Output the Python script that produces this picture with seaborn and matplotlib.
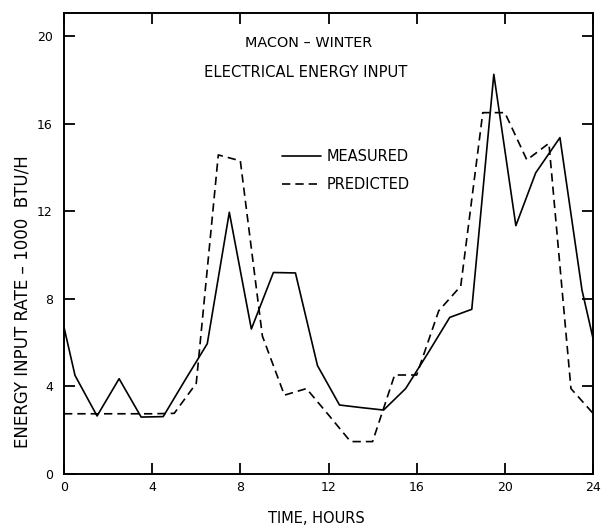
import numpy as np
import pandas as pd
import seaborn as sns
import matplotlib
matplotlib.use("Agg")
import matplotlib.pyplot as plt

# ---- data ----
measured_hours = [0, 0.5, 1.5, 2.5, 3.5, 4.5, 5.5, 6.5, 7.5, 8.5, 9.5, 10.5, 11.5,
                  12.5, 13.5, 14.5, 15.5, 16.5, 17.5, 18.5, 19.5, 20.5, 21.4, 22.5, 23.5, 24]
measured_rate = [6.7, 4.5, 2.65, 4.35, 2.6, 2.62, 4.3, 5.95, 11.95, 6.62, 9.2, 9.18, 4.95,
                 3.15, 3.03, 2.92, 3.9, 5.5, 7.15, 7.52, 18.25, 11.34, 13.75, 15.36, 8.4, 6.2]

predicted_hours = list(range(0, 25))
predicted_rate = [2.75, 2.75, 2.75, 2.75, 2.75, 2.77, 4.14, 14.57, 14.3, 6.3, 3.6, 3.9, 2.7,
                  1.48, 1.48, 4.52, 4.52, 7.45, 8.58, 16.5, 16.5, 14.34, 15.1, 3.9, 2.77]

x_ticks = [0, 4, 8, 12, 16, 20, 24]
y_ticks = [0, 4, 8, 12, 16, 20]

title_lines = ["MACON – WINTER", "ELECTRICAL ENERGY INPUT"]
series_labels = ["MEASURED", "PREDICTED"]
x_label = "TIME, HOURS"
y_label = "ENERGY INPUT RATE – 1000  BTU/H"

# ---- figure ----
sns.set_theme(style="white")
plt.rcParams["font.family"] = ["DejaVu Sans"]
plt.rcParams["text.color"] = "black"
plt.rcParams["axes.labelcolor"] = "black"

fig = plt.figure(figsize=(6.05, 5.25), dpi=100)
ax = fig.add_axes([64 / 605, 1 - 474 / 525, (593 - 64) / 605, (474 - 13) / 525])

df_m = pd.DataFrame({"hour": measured_hours, "rate": measured_rate})
df_p = pd.DataFrame({"hour": predicted_hours, "rate": predicted_rate})

sns.lineplot(data=df_m, x="hour", y="rate", ax=ax, color="black", linewidth=1.2,
             label=series_labels[0])
sns.lineplot(data=df_p, x="hour", y="rate", ax=ax, color="black", linewidth=1.2,
             linestyle=(0, (5, 3)), label=series_labels[1])

ax.set_xlim(0, 24)
ax.set_ylim(0, 21.05)
ax.set_xticks(x_ticks)
ax.set_yticks(y_ticks)
ax.set_xticklabels([str(t) for t in x_ticks])
ax.set_yticklabels([str(t) for t in y_ticks])

for s in ax.spines.values():
    s.set_color("black")
    s.set_linewidth(1.4)

ax.tick_params(axis="both", which="both", direction="in", length=8, width=1.3,
               colors="black", labelsize=9, top=True, right=True, bottom=True, left=True)
ax.tick_params(axis="x", pad=5)
ax.tick_params(axis="y", pad=8)

ax.set_xlabel(x_label, fontsize=10.5, color="black")
ax.set_ylabel(y_label, fontsize=12, color="black")
ax.xaxis.label.set_va("center")
ax.yaxis.label.set_va("center")
ax.yaxis.label.set_ha("center")
ax.xaxis.set_label_coords(0.478, -0.096)
ax.yaxis.set_label_coords(-0.079, 0.375)

ax.text(0.463, 0.934, title_lines[0], transform=ax.transAxes, ha="center", va="center",
        fontsize=10.4, color="black")
ax.text(0.457, 0.872, title_lines[1], transform=ax.transAxes, ha="center", va="center",
        fontsize=10.6, color="black")

leg = ax.legend(loc="center left", bbox_to_anchor=(0.412, 0.658), frameon=False,
                fontsize=10.5, handlelength=2.7, handletextpad=0.35, labelspacing=0.85,
                borderpad=0, borderaxespad=0)
for t in leg.get_texts():
    t.set_color("black")

fig.savefig("out.png", dpi=100, facecolor="white")
